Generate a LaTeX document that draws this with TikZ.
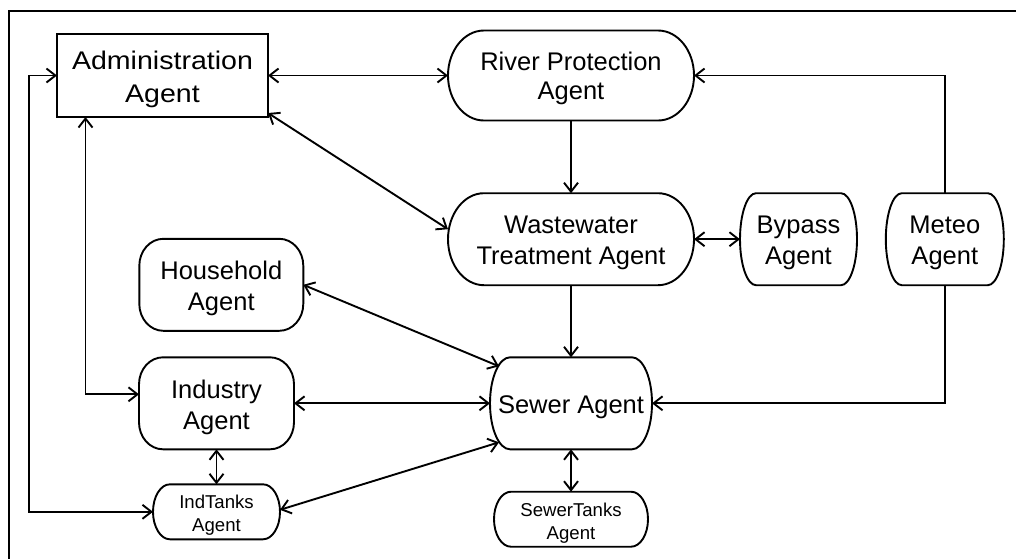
\documentclass[tikz,border=0pt]{standalone}
\usepackage{fontspec}
\setmainfont{Liberation Sans}
\usepackage{graphicx}
\usetikzlibrary{arrows.meta}

% label content set a little lower than the box centre, keeping its size
\newcommand\lowered[1]{\raisebox{-4pt}[\height][\depth]{#1}}
% two centred lines of a label
\newcommand\twoline[2]{\lowered{\begin{tabular}{@{}c@{}}#1\\#2\end{tabular}}}

% rounded agent outline with elliptic corners: #1 node, #2 x radius, #3 y radius
\newcommand\agentoutline[3]{%
  \draw[outline] ([xshift=#2]#1.north west) -- ([xshift=-#2]#1.north east)
    arc[start angle=90, end angle=0, x radius=#2, y radius=#3]
    -- ([yshift=#3]#1.south east)
    arc[start angle=0, end angle=-90, x radius=#2, y radius=#3]
    -- ([xshift=#2]#1.south west)
    arc[start angle=270, end angle=180, x radius=#2, y radius=#3]
    -- ([yshift=-#3]#1.north west)
    arc[start angle=180, end angle=90, x radius=#2, y radius=#3]
    -- cycle;}

\tikzset{
  agent/.style={draw=none, inner sep=0pt, outer sep=0pt, anchor=center,
    font=\fontsize{25.5}{31}\selectfont},
  small agent/.style={agent, font=\fontsize{18.6}{23}\selectfont},
  outline/.style={line width=1.9pt, line join=round},
  link/.style={line width=1.9pt},
  >={Straight Barb[length=9pt,width=14pt]},
  frame/.style={line width=2.7pt}
}

\begin{document}
\begin{tikzpicture}[x=1pt,y=-1pt]
\useasboundingbox (0,0) rectangle (1016,558);
\fill[white] (0,0) rectangle (1016,558);

% outer frame (its right and bottom sides lie beyond the page)
\draw[frame] (9,575) -- (9,11) -- (1035,11);

% agents
\node[agent, draw, line width=1.9pt, minimum width=211pt, minimum height=83pt,
      font=\fontsize{25.5}{33}\selectfont]
  (admin) at (162.5,75.5) {\scalebox{1.12}[1]{\twoline{Administration}{Agent}}};
\node[agent, minimum width=246pt, minimum height=90pt,
      font=\fontsize{25.5}{29}\selectfont]
  (river) at (571,75.5) {\twoline{River Protection}{Agent}};
\node[agent, minimum width=246pt, minimum height=92pt]
  (wwt) at (571,239.2) {\twoline{Wastewater}{Treatment Agent}};
\node[agent, minimum width=117pt, minimum height=92pt]
  (bypass) at (798.5,239.2) {\twoline{Bypass}{Agent}};
\node[agent, minimum width=118pt, minimum height=92pt]
  (meteo) at (944.8,239.2) {\twoline{Meteo}{Agent}};
\node[agent, minimum width=164pt, minimum height=92pt]
  (household) at (221.3,284.8) {\twoline{Household}{Agent}};
\node[agent, minimum width=155pt, minimum height=92pt]
  (industry) at (216.5,403.3) {\twoline{Industry}{Agent}};
\node[agent, minimum width=162pt, minimum height=92pt]
  (sewer) at (571,403.3) {\lowered{Sewer Agent}};
\node[small agent, minimum width=127pt, minimum height=55pt]
  (indtanks) at (216.5,511.8) {\twoline{IndTanks}{Agent}};
\node[small agent, minimum width=154pt, minimum height=55pt]
  (sewertanks) at (571,519.2) {\twoline{SewerTanks}{Agent}};

\agentoutline{river}{36pt}{45pt}
\agentoutline{wwt}{36pt}{46pt}
\agentoutline{bypass}{16pt}{46pt}
\agentoutline{meteo}{16pt}{46pt}
\agentoutline{household}{24pt}{27pt}
\agentoutline{industry}{24pt}{27pt}
\agentoutline{sewer}{20pt}{46pt}
\agentoutline{indtanks}{17pt}{27.5pt}
\agentoutline{sewertanks}{17pt}{27.5pt}

% connectors
\draw[link,<->] (admin.east) -- (river.west);
\draw[link,<->] ([yshift=4pt]admin.south east) -- ([yshift=10pt]wwt.west);
\draw[link,->] (river.south) -- (wwt.north);
\draw[link,->] (meteo.north) |- (river.east);
\draw[link,<->] (wwt.east) -- (bypass.west);
\draw[link,->] (wwt.south) -- (sewer.north);
\draw[link,->] (meteo.south) |- (sewer.east);
\draw[link,<->] (household.east) -- ([xshift=9pt,yshift=-9pt]sewer.north west);
\draw[link,<->] (industry.east) -- (sewer.west);
\draw[link,<->] ([yshift=2pt]indtanks.east) -- ([xshift=9pt,yshift=7pt]sewer.south west);
\draw[link,<->] (industry.south) -- (indtanks.north);
\draw[link,<->] (sewer.south) -- (sewertanks.north);
\draw[link,<->] ([xshift=28.5pt]admin.south west) |- ([yshift=9pt]industry.west);
\draw[link,<->] (admin.west) -- ++(-28,0) |- (indtanks.west);
\end{tikzpicture}
\end{document}
